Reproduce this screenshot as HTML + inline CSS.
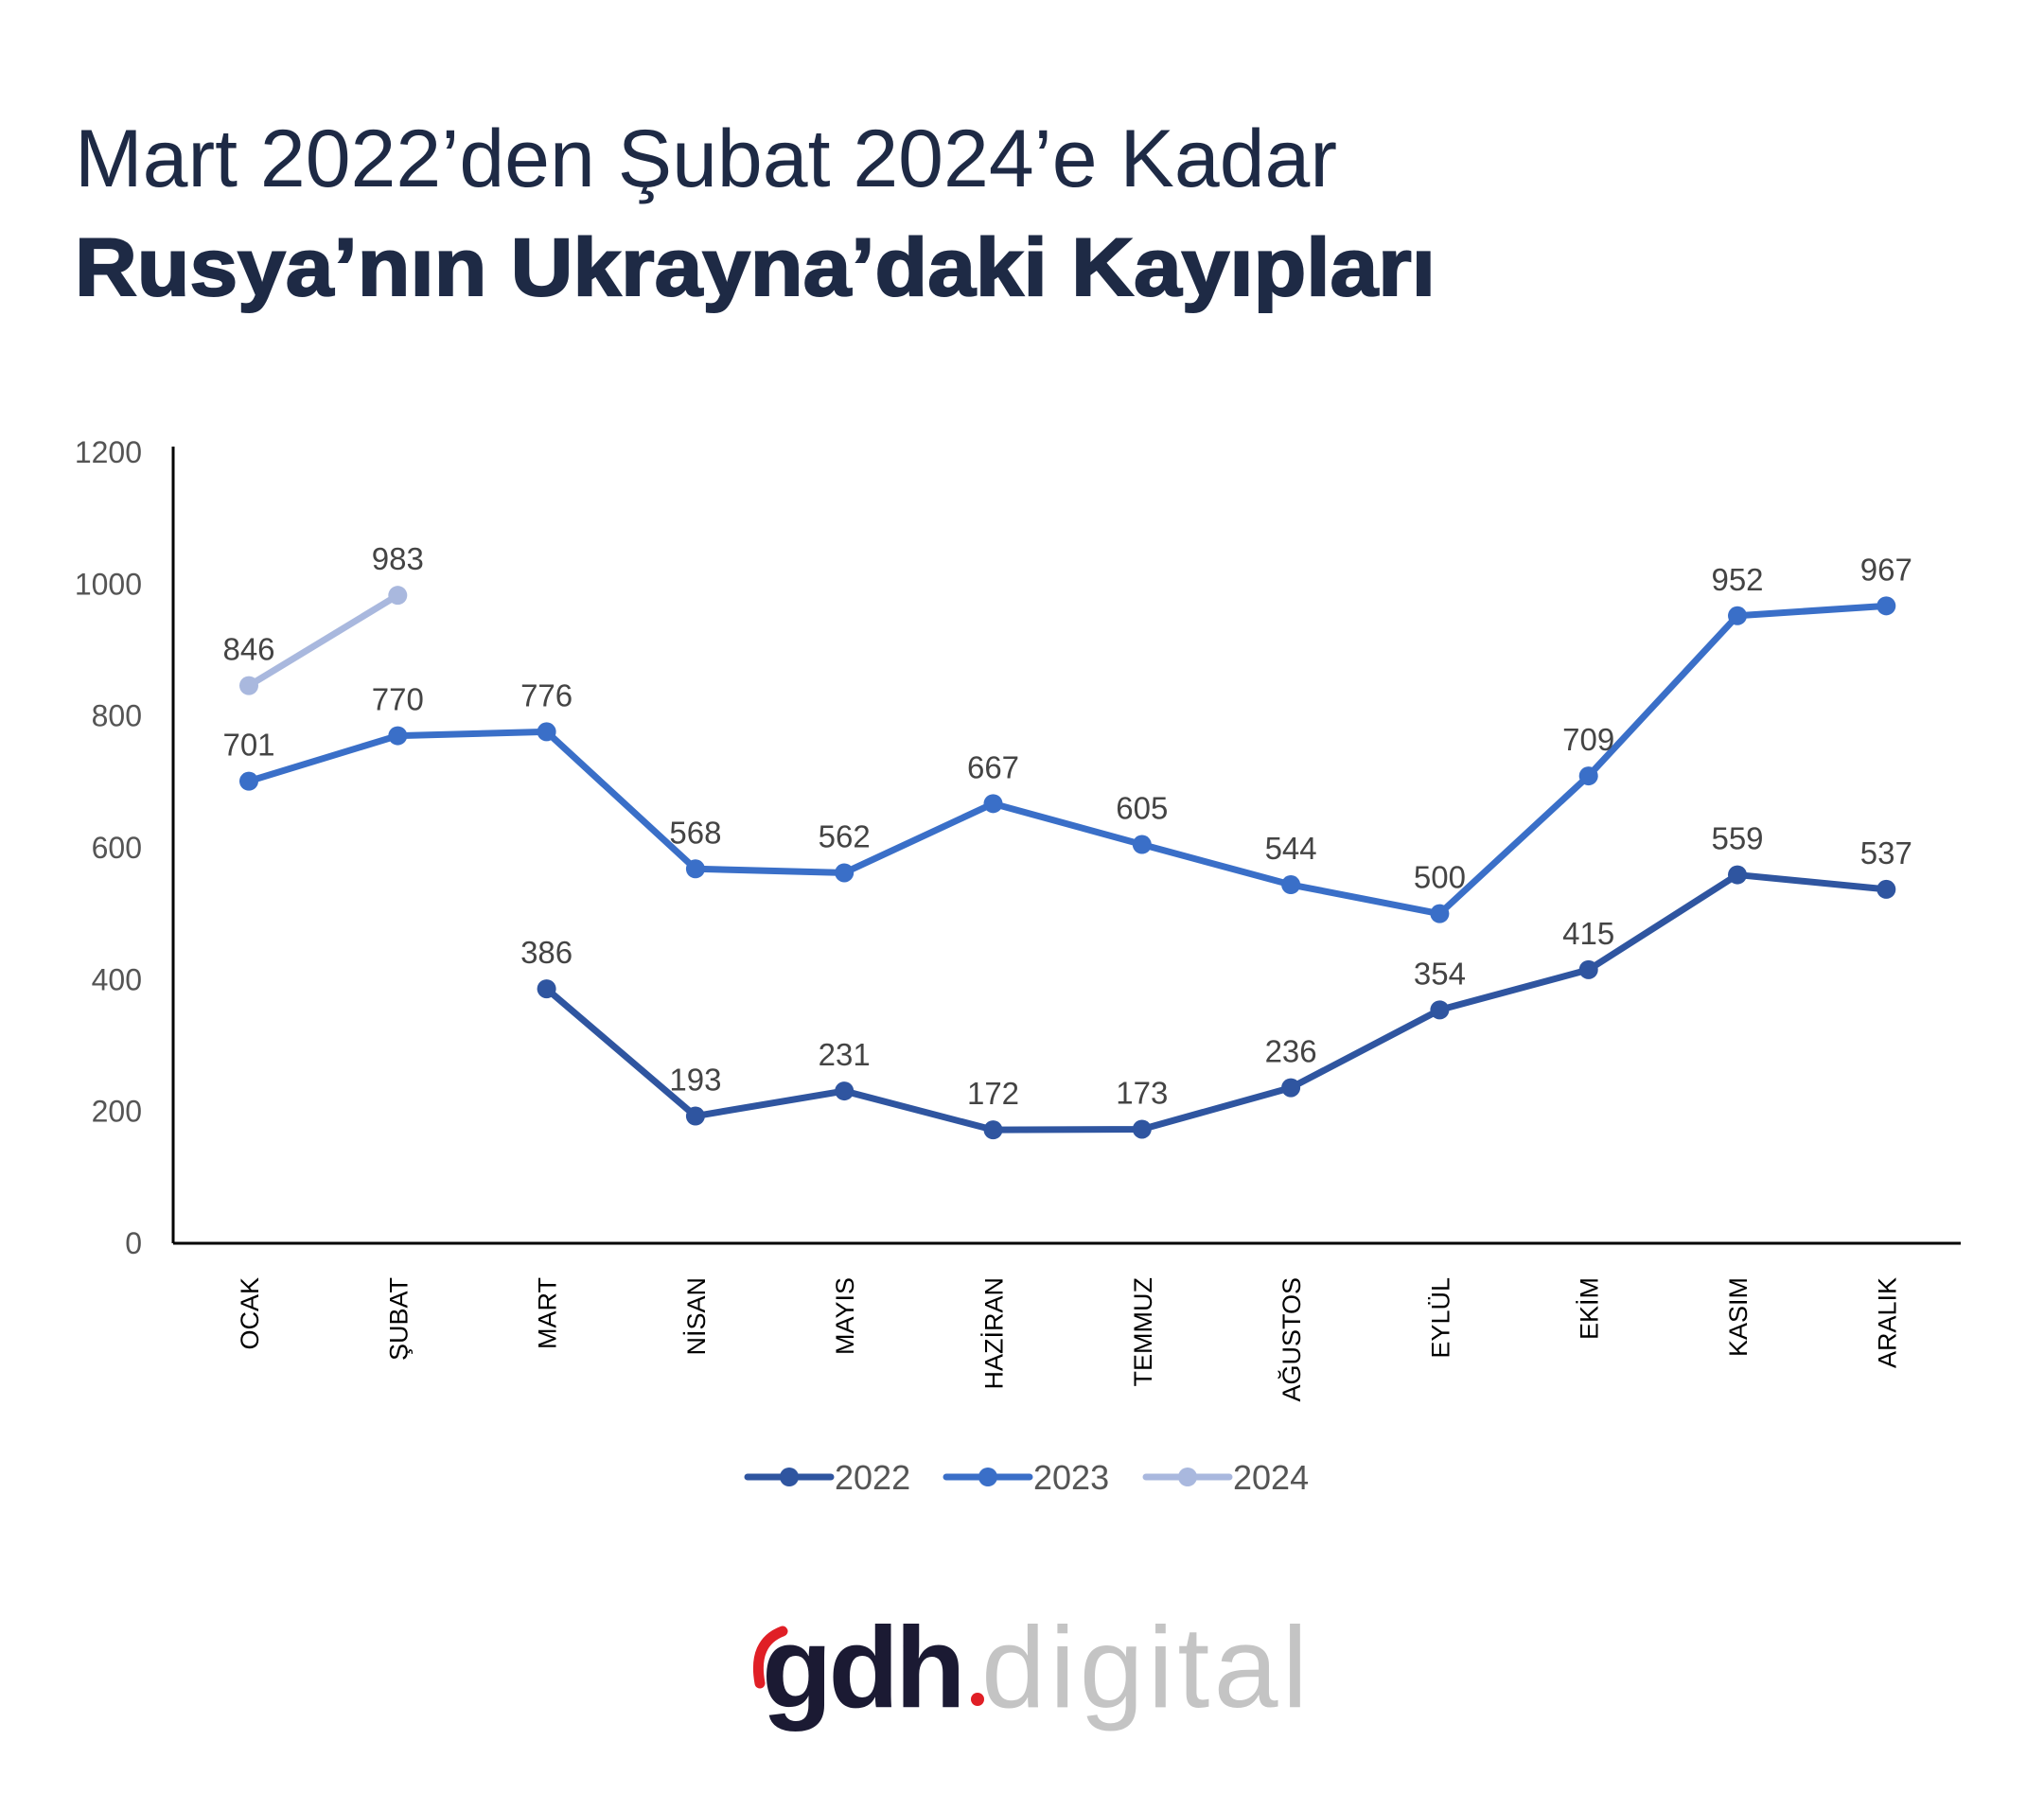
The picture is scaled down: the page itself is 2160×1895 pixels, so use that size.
<!DOCTYPE html>
<html><head><meta charset="utf-8"><style>
html,body{margin:0;padding:0;background:#fff;}
svg{display:block;font-family:"Liberation Sans",sans-serif;}
</style></head><body>
<svg id="c" width="2160" height="1895" viewBox="0 0 2160 1895">
<text x="79" y="197" font-size="86" fill="#1e2a45" textLength="1334" lengthAdjust="spacingAndGlyphs">Mart 2022’den Şubat 2024’e Kadar</text>
<text x="79" y="312" font-size="86" font-weight="bold" fill="#1e2a45" stroke="#1e2a45" stroke-width="2" textLength="1438" lengthAdjust="spacingAndGlyphs">Rusya’nın Ukrayna’daki Kayıpları</text>
<g id="plot"></g>
<g transform="translate(-15,-4)">
<path d="M818 1783 Q810 1740 842 1728" stroke="#e01f26" stroke-width="11" fill="none" stroke-linecap="round"/>
<text x="820" y="1808" font-size="122" font-weight="bold" fill="#1b1a33" letter-spacing="-4">gdh</text>
<circle cx="1048" cy="1800" r="7" fill="#e01f26"/>
<text x="1052" y="1808" font-size="122" fill="#c4c4c4" textLength="345" lengthAdjust="spacing">digital</text>
</g>
</svg>
<script>
const months=["OCAK","ŞUBAT","MART","NİSAN","MAYIS","HAZİRAN","TEMMUZ","AĞUSTOS","EYLÜL","EKİM","KASIM","ARALIK"];
const s2022=[null,null,386,193,231,172,173,236,354,415,559,537];
const s2023=[701,770,776,568,562,667,605,544,500,709,952,967];
const s2024=[846,983,null,null,null,null,null,null,null,null,null,null];
const yTicks=[0,200,400,600,800,1000,1200];
const NS="http://www.w3.org/2000/svg";
const g=document.getElementById("plot");
const X0=183,X1=2072,Y0=1314,Y1=478,C0=263,CS=157.3;
function xs(i){return C0+i*CS;}
function ys(v){return Y0-(v/1200)*(Y0-Y1);}
function mk(t,a){const e=document.createElementNS(NS,t);for(const k in a)e.setAttribute(k,a[k]);g.appendChild(e);return e;}
let e=mk("line",{x1:X0,y1:Y1-6,x2:X0,y2:Y0,stroke:"#000","stroke-width":3});


e=mk("line",{x1:X0,y1:Y0,x2:X1,y2:Y0,stroke:"#000","stroke-width":3});


yTicks.forEach(v=>{const t=mk("text",{x:150,y:ys(v)+11,"font-size":32,fill:"#555","text-anchor":"end"});t.textContent=v;

});
months.forEach((m,i)=>{const x=xs(i)+10,y=1350;const t=mk("text",{x:x,y:y,"font-size":27,fill:"#000","text-anchor":"end",transform:`rotate(-90 ${x} ${y})`});t.textContent=m;

});
const series=[[s2022,"#2f55a0","2022"],[s2023,"#3a6fc8","2023"],[s2024,"#a9b8de","2024"]];
series.forEach(([d,col,name])=>{
 let pts=[];d.forEach((v,i)=>{if(v!=null)pts.push([xs(i),ys(v),v]);});
 const p=mk("polyline",{points:pts.map(q=>q[0]+","+q[1]).join(" "),fill:"none",stroke:col,"stroke-width":7,"stroke-linejoin":"round"});
 
 
 pts.forEach(q=>{const c=mk("circle",{cx:q[0],cy:q[1],r:10,fill:col});
 
 
 const t=mk("text",{x:q[0],y:q[1]-27,"font-size":33,fill:"#444","text-anchor":"middle"});t.textContent=q[2];
 
 });
});
const lx=[790,1000,1211];
series.forEach(([d,col,name],k)=>{const x=lx[k],y=1561;
 const l=mk("line",{x1:x,y1:y,x2:x+88,y2:y,stroke:col,"stroke-width":7,"stroke-linecap":"round"});
 
 
 const c=mk("circle",{cx:x+44,cy:y,r:10,fill:col});
 
 
 const t=mk("text",{x:x+92,y:y+13,"font-size":36,fill:"#555"});t.textContent=name;
 
 });
</script>
</body></html>
